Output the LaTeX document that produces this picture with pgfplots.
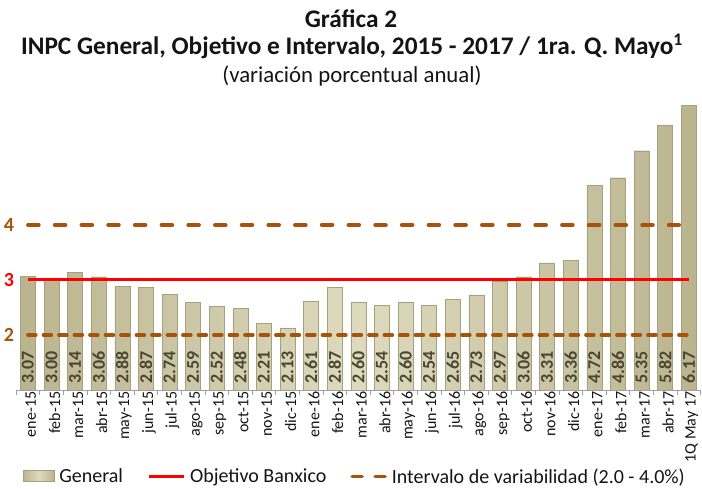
\documentclass[border=0pt]{standalone}
\usepackage{fontspec}
\setmainfont{Carlito}
\usepackage{pgfplots}
\pgfplotsset{compat=1.18}
\usepackage{pgfplotstable}
\definecolor{brn}{RGB}{166,84,12}
\definecolor{barlight}{RGB}{222,218,190}
\definecolor{bardark}{RGB}{186,180,142}
\definecolor{bardraw}{RGB}{165,160,125}
\definecolor{labcol}{RGB}{74,70,50}
\definecolor{txt}{RGB}{20,20,20}
\definecolor{axgray}{RGB}{160,160,160}

\pgfplotstableread{
x v
0 3.07
1 3.00
2 3.14
3 3.06
4 2.88
5 2.87
6 2.74
7 2.59
8 2.52
9 2.48
10 2.21
11 2.13
12 2.61
13 2.87
14 2.60
15 2.54
16 2.60
17 2.54
18 2.65
19 2.73
20 2.97
21 3.06
22 3.31
23 3.36
24 4.72
25 4.86
26 5.35
27 5.82
28 6.17
}\datatab

\begin{document}
\begin{tikzpicture}
\path[use as bounding box] (0pt,0pt) rectangle (702pt,489pt);
\begin{axis}[
  at={(16.1pt,99pt)}, anchor=south west,
  scale only axis,
  width=684.4pt, height=330pt,
  xmin=-0.5, xmax=28.5,
  ymin=1, ymax=7,
  axis x line*=bottom,
  axis y line*=left,
  y axis line style={draw=none},
  x axis line style={draw=axgray, line width=0.8pt},
  xtick={0,...,28},
  xticklabels={ene-15,feb-15,mar-15,abr-15,may-15,jun-15,jul-15,ago-15,sep-15,oct-15,nov-15,dic-15,ene-16,feb-16,mar-16,abr-16,may-16,jun-16,jul-16,ago-16,sep-16,oct-16,nov-16,dic-16,ene-17,feb-17,mar-17,abr-17,1Q May 17},
  minor xtick={-0.5,0.5,...,28.5},
  major tick length=0pt,
  minor tick length=5pt,
  tick align=outside,
  minor x tick style={draw=axgray, line width=0.8pt},
  xticklabel style={rotate=90, anchor=east, font=\fontsize{16}{16}\selectfont, text=txt, inner sep=1.5pt, yshift=-3pt},
  ytick={2,3,4},
  yticklabels={\textcolor{brn}{2},\textcolor{red}{3},\textcolor{brn}{4}},
  yticklabel style={font=\bfseries\fontsize{20}{20}\selectfont, inner sep=2pt},
  ytick style={draw=none},
  legend columns=3,
  legend cell align=left,
  legend style={at={(0.495,-0.262)}, anchor=center, draw=none, fill=none,
    font=\fontsize{20}{20}\selectfont, text=txt,
    /tikz/every odd column/.append style={column sep=3pt},
    /tikz/every even column/.append style={column sep=22pt}},
]
\addplot[ybar, bar width=15pt, draw=bardraw, line width=0.3pt,
  left color=bardark, right color=bardark, middle color=barlight,
  legend image code/.code={\path[left color=bardark, right color=bardark, middle color=barlight, draw=bardraw, line width=0.4pt, shading angle=90] (0pt,-5pt) rectangle (31pt,6pt);}]
  table[x=x, y=v] {\datatab};
\addlegendentry{General}
\addplot[red, line width=3pt,
  legend image code/.code={\draw[red, line width=3pt] (0pt,0pt) -- (35pt,0pt);}]
  coordinates {(0,3) (28,3)};
\addlegendentry{Objetivo Banxico}
\addplot[brn, line width=3.5pt, line cap=round, dash pattern=on 11pt off 15.7pt,
  legend image code/.code={\draw[brn, line width=3.5pt, line cap=round, dash pattern=on 10pt off 13pt] (2pt,0pt) -- (35pt,0pt);}]
  coordinates {(0,4) (27.6,4)};
\addlegendentry{Intervalo de variabilidad (2.0 - 4.0\%)}
\addplot[brn, line width=3.5pt, line cap=round, dash pattern=on 8pt off 7.5pt, forget plot]
  coordinates {(0,2) (28,2)};
\addplot[draw=none, mark=none, forget plot,
  nodes near coords, point meta=explicit symbolic,
  every node near coord/.style={rotate=90, anchor=west, inner xsep=6pt, inner ysep=0pt,
    font=\bfseries\fontsize{18}{18}\selectfont, text=labcol}]
  table[x=x, y expr=1, meta=v] {\datatab};
\end{axis}
\node[anchor=base, font=\bfseries\fontsize{25.3}{25.3}\selectfont, text=txt] at (351pt,461pt) {Gráfica 2};
\node[anchor=base, font=\bfseries\fontsize{25.3}{25.3}\selectfont, text=txt] at (352pt,434pt) {INPC General, Objetivo e Intervalo, 2015 - 2017 / 1ra. Q. Mayo\textsuperscript{1}};
\node[anchor=base, font=\fontsize{22.8}{22.8}\selectfont, text=txt] at (352pt,406pt) {(variación porcentual anual)};
\end{tikzpicture}
\end{document}
